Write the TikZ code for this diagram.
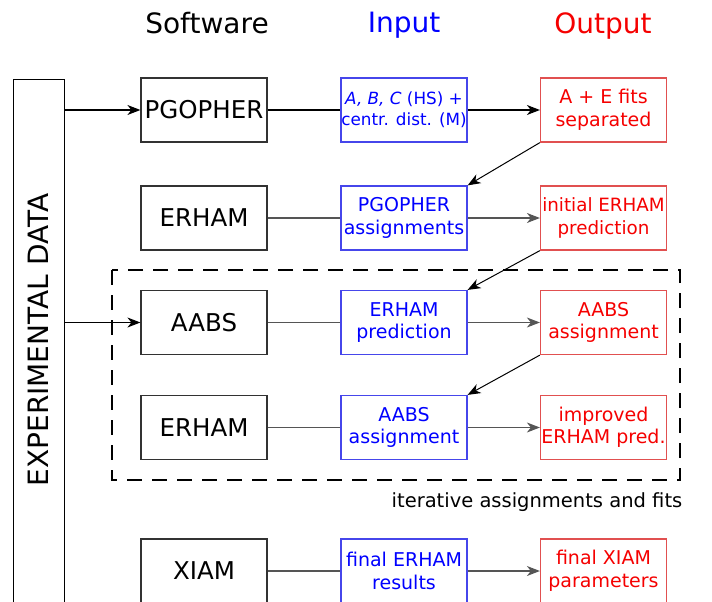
\documentclass[tikz,border=0pt]{standalone}
\usepackage{fontspec}
\setmainfont{DejaVu Sans}
\usetikzlibrary{arrows.meta}
\definecolor{txtblue}{RGB}{0,0,255}
\definecolor{bdblue}{RGB}{70,70,235}
\definecolor{txtred}{RGB}{245,0,0}
\definecolor{bdred}{RGB}{225,80,80}
\definecolor{bdgray}{RGB}{50,50,50}
\definecolor{lngray}{RGB}{85,85,85}
\begin{document}
\begin{tikzpicture}[x=1pt,y=-1pt,
  basebox/.style={line width=1.2pt, minimum width=126pt, minimum height=64pt, inner sep=0pt, align=center},
  swbox/.style={basebox, draw=bdgray, font=\fontsize{24.5}{28}\selectfont},
  inbox/.style={basebox, draw=bdblue, text=txtblue, font=\fontsize{19}{22.5}\selectfont},
  outbox/.style={basebox, draw=bdred, text=txtred, font=\fontsize{19}{22.5}\selectfont},
  head/.style={font=\fontsize{28}{32}\selectfont, anchor=base, inner sep=0pt},
  tip/.style={-{Stealth[length=13pt,width=10pt,inset=4pt]}},
  rowline/.style={draw=lngray, line width=1.2pt},
  arr/.style={tip, line width=1.1pt},
  diag/.style={tip, draw=black, line width=1pt}
]
\useasboundingbox (0,0) rectangle (712,602);
\clip (0,0) rectangle (712,602);

% headers
\node[head] (hsw) at (207,34) {Software};
\node[head, text=txtblue] (hin) at (404,33) {Input};
\node[head, text=txtred] (hout) at (603,34) {Output};

% experimental data
\node[draw=black, line width=1.2pt, minimum width=51.5pt, minimum height=560pt, inner sep=0pt, anchor=north west] (exp) at (12.5,79) {};
\node[rotate=90, font=\fontsize{28}{32}\selectfont, inner sep=0pt] (exptext) at (38,340) {EXPERIMENTAL DATA};

% dashed frame
\draw[line width=2pt, dash pattern=on 15pt off 10pt] (112,270) rectangle (680,480);
\node[font=\fontsize{19.5}{23}\selectfont, anchor=base, inner sep=0pt] (iter) at (537,507) {iterative assignments and fits};

% software column
\node[swbox] (sw1) at (204,110) {PGOPHER};
\node[swbox] (sw2) at (204,218) {ERHAM};
\node[swbox] (sw3) at (204,322.5) {AABS};
\node[swbox] (sw4) at (204,427.5) {ERHAM};
\node[swbox] (sw5) at (204,571) {XIAM};

% input column
\node[inbox, font=\fontsize{16.8}{21}\selectfont] (in1) at (404,110) {\textit{A, B, C} (HS) +\\centr. dist. (M)};
\node[inbox] (in2) at (404,218) {PGOPHER\\assignments};
\node[inbox] (in3) at (404,322.5) {ERHAM\\prediction};
\node[inbox] (in4) at (404,427.5) {AABS\\assignment};
\node[inbox] (in5) at (404,571) {final ERHAM\\results};

% output column
\node[outbox] (out1) at (603.5,110) {A + E fits\\separated};
\node[outbox, font=\fontsize{18.3}{22.5}\selectfont] (out2) at (603.5,218) {initial ERHAM\\prediction};
\node[outbox] (out3) at (603.5,322.5) {AABS\\assignment};
\node[outbox] (out4) at (603.5,427.5) {improved\\ERHAM pred.};
\node[outbox] (out5) at (603.5,571) {final XIAM\\parameters};

% data arrows
\draw[arr] (exp.east |- sw1.west) -- (sw1.west);
\draw[arr] (exp.east |- sw3.west) -- (sw3.west);

% row connections
\draw[line width=1.2pt] (sw1.east) -- (in1.west);
\draw[line width=1.2pt, arr] (in1.east) -- (out1.west);
\foreach \i in {2,...,5}{
  \draw[rowline] (sw\i.east) -- (in\i.west);
  \draw[rowline, arr] (in\i.east) -- (out\i.west);
}

% diagonal arrows
\draw[diag] (out1.south west) -- (in2.north east);
\draw[diag] (out2.south west) -- (in3.north east);
\draw[diag] (out3.south west) -- (in4.north east);
\end{tikzpicture}
\end{document}
